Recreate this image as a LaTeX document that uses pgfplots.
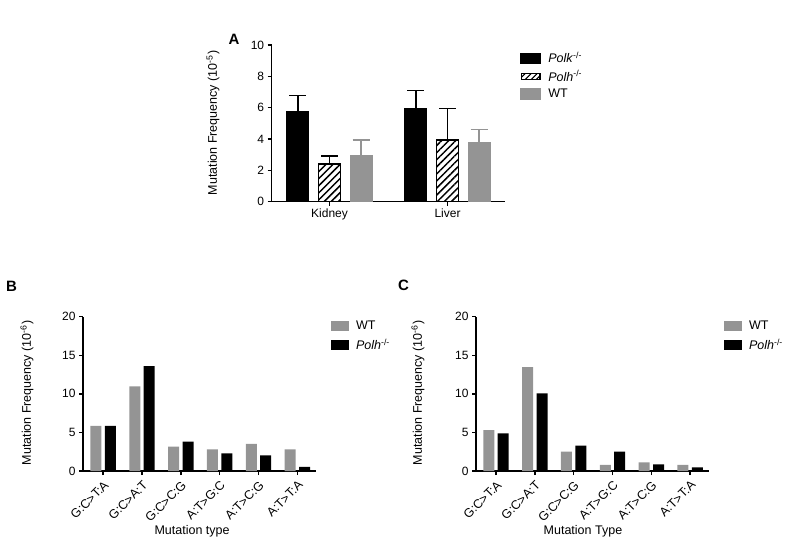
\documentclass[border=0pt]{standalone}
\usepackage{fontspec}
\setmainfont{Liberation Sans}
\usepackage{pgfplots}
\pgfplotsset{compat=1.18}
\usetikzlibrary{patterns.meta}
\definecolor{wtgray}{RGB}{148,148,148}

\pgfplotsset{
  mystyle/.style={
    scale only axis,
    axis lines*=left,
    axis line style={line width=1.5pt,-},
    tick align=outside,
    major tick length=4pt,
    every tick/.style={line width=1.5pt,black},
    ymin=0,
    clip=false,
    tick label style={font=\fontsize{12}{14}\selectfont},
    /pgf/number format/assume math mode=true,
    legend style={draw=none,fill=none,font=\fontsize{12.5}{15}\selectfont,
      anchor=north west, inner sep=0pt, row sep=4pt,
      nodes={inner sep=1pt},
      /tikz/every odd column/.append style={column sep=6pt}},
    legend cell align=left,
    every axis y label/.style={rotate=90,anchor=center,font=\fontsize{12.5}{15}\selectfont},
    every axis x label/.style={anchor=center,font=\fontsize{12.5}{15}\selectfont},
  },
  myerr/.style={
    error bars/.cd, y dir=plus, y explicit,
    error bar style={line width=1.5pt,#1},
    error mark options={rotate=90,line width=1.5pt,mark size=8.5pt,#1}
  }
}

\begin{document}
\begin{tikzpicture}
\path[use as bounding box] (0,0) rectangle (800pt,554pt);

% ---------- Panel A ----------
\node[font=\fontsize{15}{17}\selectfont\bfseries] at (234pt,515pt) {A};
\begin{axis}[mystyle,
  at={(271.7pt,352.3pt)}, anchor=south west,
  width=233.3pt, height=156.7pt,
  xmin=-0.49, xmax=1.487, ymax=10,
  ytick={0,2,4,6,8,10},
  xtick={0,1}, xticklabels={Kidney,Liver},
  ybar, bar width=22pt,
  ylabel={Mutation Frequency (10\textsuperscript{-5})},
  every axis y label/.append style={at={(rel axis cs:-0.2516,0.502)}},
  legend style={at={(rel axis cs:1.064,0.962)}},
]
\addplot[fill=black, draw=black, line width=1.2pt, bar shift=-31.7pt,
  legend image code/.code={\fill[black] (0pt,-5pt) rectangle (20pt,5pt);},
  myerr=black]
  coordinates {(0,5.78) +- (0,0.99) (1,5.94) +- (0,1.16)};
\addlegendentry{\textit{Polk}\textsuperscript{-/-}}
\addplot[pattern={Lines[angle=45,distance=5pt,line width=1.5pt]}, draw=black, line width=1.5pt, bar shift=0pt,
  legend image code/.code={\draw[line width=1.5pt,pattern={Lines[angle=45,distance=4pt,line width=1.3pt]}] (0.75pt,-3pt) rectangle (19.25pt,3pt);},
  myerr=black]
  coordinates {(0,2.40) +- (0,0.51) (1,3.94) +- (0,2.02)};
\addlegendentry{\textit{Polh}\textsuperscript{-/-}}
\addplot[fill=wtgray, draw=wtgray, line width=1.2pt, bar shift=31.7pt,
  legend image code/.code={\fill[wtgray] (0pt,-5.5pt) rectangle (20pt,5.5pt);},
  myerr=wtgray]
  coordinates {(0,2.94) +- (0,1.00) (1,3.74) +- (0,0.88)};
\addlegendentry{WT}
\end{axis}

% ---------- Panel B ----------
\node[font=\fontsize{15}{17}\selectfont\bfseries] at (11.5pt,268pt) {B};
\begin{axis}[mystyle,
  at={(83pt,83pt)}, anchor=south west,
  width=233pt, height=154.3pt,
  xmin=-0.52, xmax=5.48, ymax=20,
  ytick={0,5,10,15,20},
  xtick={0,1,2,3,4,5},
  xticklabels={G:C>T:A,G:C>A:T,G:C>C:G,A:T>G:C,A:T>C:G,A:T>T:A},
  x tick label style={rotate=45,anchor=north east,font=\fontsize{12.5}{14}\selectfont},
  ybar, bar width=11pt,
  ylabel={Mutation Frequency (10\textsuperscript{-6})},
  every axis y label/.append style={at={(rel axis cs:-0.2403,0.5055)}},
  xlabel={Mutation type},
  every axis x label/.append style={at={(rel axis cs:0.468,-0.389)}},
  legend style={at={(rel axis cs:1.064,0.98)}, row sep=6pt},
]
\addplot[fill=wtgray, draw=none, bar shift=-7.2pt,
  legend image code/.code={\fill[wtgray] (0pt,-5pt) rectangle (18pt,5pt);}]
  coordinates {(0,5.85) (1,10.97) (2,3.15) (3,2.80) (4,3.50) (5,2.80)};
\addlegendentry{WT}
\addplot[fill=black, draw=none, bar shift=7.2pt,
  legend image code/.code={\fill[black] (0pt,-5pt) rectangle (18pt,5pt);}]
  coordinates {(0,5.85) (1,13.60) (2,3.80) (3,2.29) (4,2.03) (5,0.52)};
\addlegendentry{\textit{Polh}\textsuperscript{-/-}}
\end{axis}

% ---------- Panel C ----------
\node[font=\fontsize{15}{17}\selectfont\bfseries] at (403.5pt,269pt) {C};
\begin{axis}[mystyle,
  at={(476pt,83pt)}, anchor=south west,
  width=233pt, height=154.3pt,
  xmin=-0.515, xmax=5.485, ymax=20,
  ytick={0,5,10,15,20},
  xtick={0,1,2,3,4,5},
  xticklabels={G:C>T:A,G:C>A:T,G:C>C:G,A:T>G:C,A:T>C:G,A:T>T:A},
  x tick label style={rotate=45,anchor=north east,font=\fontsize{12.5}{14}\selectfont},
  ybar, bar width=11pt,
  ylabel={Mutation Frequency (10\textsuperscript{-6})},
  every axis y label/.append style={at={(rel axis cs:-0.249,0.5055)}},
  xlabel={Mutation Type},
  every axis x label/.append style={at={(rel axis cs:0.459,-0.389)}},
  legend style={at={(rel axis cs:1.064,0.98)}, row sep=6pt},
]
\addplot[fill=wtgray, draw=none, bar shift=-7.2pt,
  legend image code/.code={\fill[wtgray] (0pt,-5pt) rectangle (18pt,5pt);}]
  coordinates {(0,5.31) (1,13.48) (2,2.50) (3,0.78) (4,1.12) (5,0.78)};
\addlegendentry{WT}
\addplot[fill=black, draw=none, bar shift=7.2pt,
  legend image code/.code={\fill[black] (0pt,-5pt) rectangle (18pt,5pt);}]
  coordinates {(0,4.88) (1,10.06) (2,3.28) (3,2.50) (4,0.86) (5,0.48)};
\addlegendentry{\textit{Polh}\textsuperscript{-/-}}
\end{axis}
\end{tikzpicture}
\end{document}
